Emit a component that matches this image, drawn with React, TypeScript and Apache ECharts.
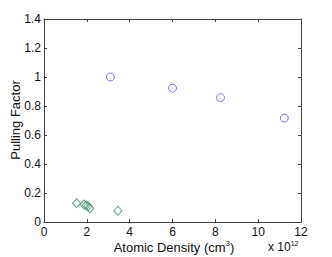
import React, { useEffect, useRef } from "react";
import * as echarts from "echarts";

const circleX = [3.1, 6.0, 8.24, 11.22];
const circleY = [1.0, 0.923, 0.858, 0.717];
const diamondX = [1.52, 1.87, 1.97, 2.05, 2.14, 3.45];
const diamondY = [0.13, 0.12, 0.115, 0.108, 0.095, 0.078];
const xTicks = [0, 2, 4, 6, 8, 10, 12];
const yTicks = [0, 0.2, 0.4, 0.6, 0.8, 1, 1.2, 1.4];

const FONT = "Liberation Sans, Arial, Helvetica, sans-serif";
const AX = "#444";

export default function App() {
  const ref = useRef<HTMLDivElement>(null);
  useEffect(() => {
    const chart = echarts.init(ref.current!, undefined, { renderer: "svg" });
    const baseAxis = {
      type: "value" as const,
      splitLine: { show: false },
      axisLine: { show: true, onZero: false, lineStyle: { color: AX, width: 1 } },
      axisTick: { show: true, inside: true, length: 3, lineStyle: { color: AX } },
    };
    chart.setOption({
      animation: false,
      backgroundColor: "#fff",
      grid: { left: 44, right: 31, top: 19, bottom: 35 },
      xAxis: [
        {
          ...baseAxis,
          min: xTicks[0],
          max: xTicks[xTicks.length - 1],
          interval: 2,
          axisLabel: { color: "#111", fontSize: 12, fontFamily: FONT, margin: 4 },
        },
        {
          ...baseAxis,
          position: "top",
          min: xTicks[0],
          max: xTicks[xTicks.length - 1],
          interval: 2,
          axisLabel: { show: false },
        },
      ],
      yAxis: [
        {
          ...baseAxis,
          min: yTicks[0],
          max: yTicks[yTicks.length - 1],
          interval: 0.2,
          axisLabel: {
            color: "#111",
            fontSize: 12,
            fontFamily: FONT,
            margin: 3,
            formatter: (v: number) => String(Math.round(v * 10) / 10),
          },
        },
        {
          ...baseAxis,
          position: "right",
          min: yTicks[0],
          max: yTicks[yTicks.length - 1],
          interval: 0.2,
          axisLabel: { show: false },
        },
      ],
      series: [
        {
          type: "scatter",
          data: circleX.map((x, i) => [x, circleY[i]]),
          symbol: "circle",
          symbolSize: 8,
          itemStyle: { color: "transparent", borderColor: "#5555ff", borderWidth: 1 },
        },
        {
          type: "scatter",
          data: diamondX.map((x, i) => [x, diamondY[i]]),
          symbol: "diamond",
          symbolSize: [8, 9],
          itemStyle: { color: "transparent", borderColor: "#3f8f6a", borderWidth: 1 },
        },
      ],
      graphic: [
        {
          type: "text",
          x: 174,
          y: 247,
          style: {
            text: "{n|Atomic Density (cm}{s|3}{n|)}",
            align: "center",
            verticalAlign: "middle",
            rich: {
              n: { fontSize: 13, fontFamily: FONT, fill: "#111" },
              s: { fontSize: 8, fontFamily: FONT, fill: "#111", padding: [0, 0, 7, 0] },
            },
          },
        },
        {
          type: "text",
          x: 268,
          y: 247,
          style: {
            text: "{n|x 10}{s|12}",
            align: "left",
            verticalAlign: "middle",
            rich: {
              n: { fontSize: 12, fontFamily: FONT, fill: "#111" },
              s: { fontSize: 7, fontFamily: FONT, fill: "#111", padding: [0, 0, 7, 0] },
            },
          },
        },
        {
          type: "text",
          x: 15,
          y: 120,
          rotation: Math.PI / 2,
          style: {
            text: "Pulling Factor",
            align: "center",
            verticalAlign: "middle",
            fontSize: 13,
            fontFamily: FONT,
            fill: "#111",
          },
        },
      ],
    });
    return () => chart.dispose();
  }, []);
  return <div ref={ref} style={{ width: 332, height: 257, position: "absolute", left: 0, top: 0 }} />;
}
